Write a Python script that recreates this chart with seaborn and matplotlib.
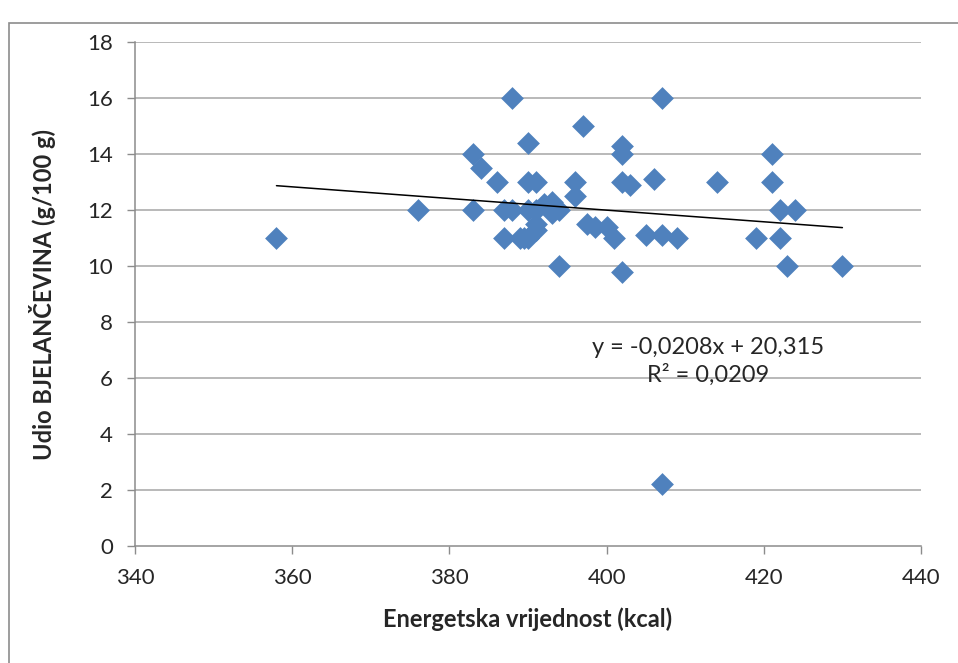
import numpy as np
import pandas as pd
import seaborn as sns
import matplotlib
matplotlib.use('Agg')
from matplotlib import pyplot as plt
from matplotlib.patches import Rectangle

# energy value (kcal) and protein share (g/100 g)
energy = [358, 376, 383, 383, 384, 386, 388, 387, 388, 387,
          389, 390, 390, 391, 390, 390, 391, 391, 392, 393,
          394, 394, 396, 396, 397, 397.5, 398.5, 400, 401, 402,
          402, 402, 403, 402, 405, 406, 407, 407, 407, 409,
          414, 419, 421, 421, 422, 424, 422, 423, 430, 391,
          393, 389.5]
protein = [11, 12, 14, 12, 13.5, 13, 16, 12, 12, 11,
           11, 14.4, 13, 13, 11, 12, 11.5, 12, 12.2, 12.3,
           12, 10, 13, 12.5, 15, 11.5, 11.4, 11.4, 11, 14.3,
           14, 13, 12.9, 9.8, 11.1, 13.1, 16, 11.1, 2.2, 11,
           13, 11, 14, 13, 12, 12, 11, 10, 10, 11.3,
           11.9, 11]

# trendline as printed on the chart
slope = -0.0208
intercept = 20.315
eq_text = 'y = -0,0208x + 20,315'
r2_text = 'R² = 0,0209'

xticks = [340, 360, 380, 400, 420, 440]
yticks = list(range(0, 19, 2))

df = pd.DataFrame({'energy': energy, 'protein': protein})

sns.set_style('white')
plt.rcParams['font.family'] = ['Lato', 'DejaVu Sans']

fig = plt.figure(figsize=(9.58, 6.63), dpi=100)
fig.patches.append(Rectangle((9 / 958, -0.1), 1.2, (663 - 23) / 663 + 0.1,
                             transform=fig.transFigure, fill=False,
                             edgecolor='#8c8c8c', linewidth=1.2))
ax = fig.add_axes([135 / 958, 1 - 546 / 663, 786 / 958, 504 / 663])

for yv in yticks[1:]:
    ax.axhline(yv, color='#a6a6a6', linewidth=1.1, zorder=0)

sns.scatterplot(data=df, x='energy', y='protein', marker='D', s=135,
                color='#4F81BD', linewidth=0, ax=ax, zorder=3)

trend_x = np.array([df['energy'].min(), df['energy'].max()])
sns.lineplot(x=trend_x, y=slope * trend_x + intercept, color='black',
             linewidth=1.1, ax=ax, zorder=4)

ax.text(412.9, 7.1, eq_text, ha='center', va='center', fontsize=17)
ax.text(412.9, 6.1, r2_text, ha='center', va='center', fontsize=17)

ax.set_xlim(340, 440)
ax.set_ylim(0, 18)
ax.set_xticks(xticks)
ax.set_yticks(yticks)
ax.tick_params(axis='both', labelsize=16, length=6, width=1, color='#8c8c8c',
               direction='out', left=True, bottom=True)
ax.tick_params(axis='y', pad=10)
ax.tick_params(axis='x', pad=10)
for side in ['top', 'right']:
    ax.spines[side].set_visible(False)
for side in ['left', 'bottom']:
    ax.spines[side].set_color('#8c8c8c')
    ax.spines[side].set_linewidth(1.1)

ax.set_xlabel('Energetska vrijednost (kcal)', fontsize=17, fontweight='bold', labelpad=14)
ax.set_ylabel('Udio BJELANČEVINA (g/100 g)', fontsize=17, fontweight='bold', labelpad=22)

fig.savefig('out.png', dpi=100)
